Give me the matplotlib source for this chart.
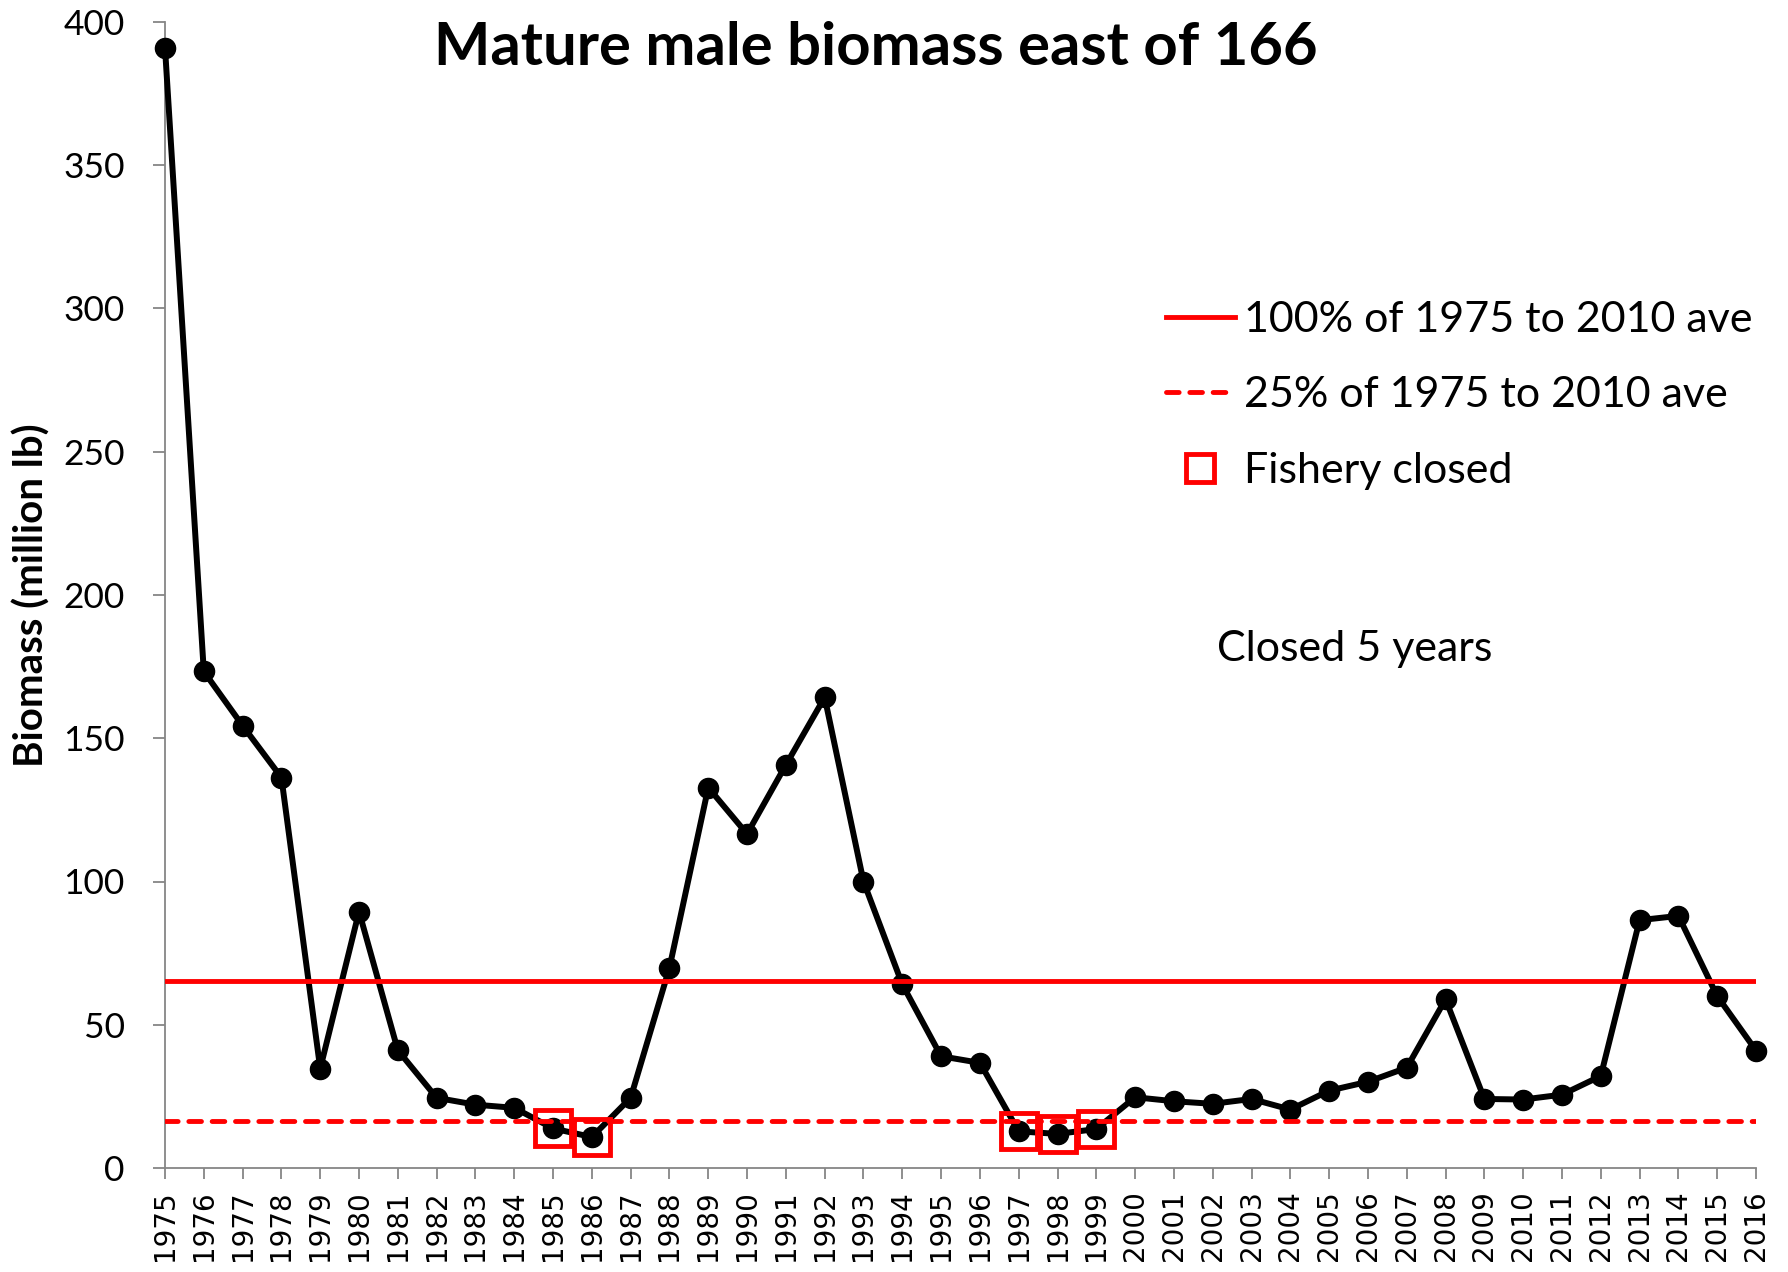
import numpy as np
import matplotlib
matplotlib.use("Agg")
import matplotlib.pyplot as plt
from matplotlib.lines import Line2D

years = np.arange(1975, 2017)
biomass = [391.0, 173.3, 154.4, 136.3, 34.7, 89.5, 41.1, 24.5, 22.1, 21.0,
           13.8, 10.8, 24.5, 69.9, 132.8, 116.6, 140.7, 164.3, 100.0, 64.1,
           39.0, 36.7, 12.8, 11.9, 13.6, 24.7, 23.3, 22.4, 24.1, 20.4,
           27.0, 30.1, 35.0, 58.9, 24.1, 23.9, 25.6, 32.1, 86.5, 88.0,
           60.0, 41.0]
closed_years = [1985, 1986, 1997, 1998, 1999]
ave_start, ave_end = 1975, 2010

biomass = np.array(biomass)
ave_mask = (years >= ave_start) & (years <= ave_end)
ave_100 = biomass[ave_mask].mean()
ave_25 = 0.25 * ave_100
closed_mask = np.isin(years, closed_years)

text_font = "Lato"
axis_grey = "#868686"
dash_style = dict(dashes=(2.6, 2.2), dash_capstyle="round")

fig = plt.figure(figsize=(17.88, 12.72), dpi=100)
ax = fig.add_axes([165 / 1788, 1 - 1168 / 1272, (1756 - 165) / 1788, (1168 - 22) / 1272])

ax.plot(years, biomass, color="black", linewidth=4.3, marker="o", markersize=14.5,
        zorder=3, clip_on=False)
ax.axhline(ave_100, color="red", linewidth=3.5, zorder=4)
ax.axhline(ave_25, color="red", linewidth=3.5, zorder=4, **dash_style)
ax.plot(years[closed_mask], biomass[closed_mask], linestyle="none", marker="s",
        markersize=26, markerfacecolor="none", markeredgecolor="red",
        markeredgewidth=3.5, zorder=5)

ax.set_xlim(years[0], years[-1])
ax.set_ylim(0, 400)
ax.set_yticks(np.arange(0, 401, 50))
ax.set_xticks(years)
ax.set_xticklabels([str(y) for y in years], rotation=90, fontsize=20,
                   family="DejaVu Sans")
for lab in ax.get_yticklabels():
    lab.set_family(text_font)
    lab.set_fontsize(25.5)

for side in ["top", "right"]:
    ax.spines[side].set_visible(False)
for side in ["left", "bottom"]:
    ax.spines[side].set_color(axis_grey)
    ax.spines[side].set_linewidth(1.3)
ax.tick_params(axis="y", length=9, width=1.3, color=axis_grey, pad=20)
ax.tick_params(axis="x", length=8, width=1.3, color=axis_grey, pad=8)

ax.set_ylabel("Biomass (million lb)", family=text_font, fontweight="bold", fontsize=29)
ax.yaxis.set_label_coords(-0.072, 0.5)

fig.text(876 / 1788, 1 - 48 / 1272, "Mature male biomass east of 166",
         family=text_font, fontweight="bold", fontsize=43, ha="center", va="center")

ax.text(2005.67, 181, "Closed 5 years", family=text_font, fontsize=31,
        ha="center", va="center")

handles = [
    Line2D([], [], color="red", linewidth=3.5),
    Line2D([], [], color="red", linewidth=3.5, **dash_style),
    Line2D([], [], linestyle="none", marker="s", markersize=20, markerfacecolor="none",
           markeredgecolor="red", markeredgewidth=3.5),
]
labels = ["100% of 1975 to 2010 ave", "25% of 1975 to 2010 ave", "Fishery closed"]
ax.legend(handles, labels, loc="upper left", bbox_to_anchor=(1166 / 1788, 1 - 301 / 1272),
          bbox_transform=fig.transFigure, frameon=False, prop={"family": text_font, "size": 31},
          handlelength=1.6, handletextpad=0.2, labelspacing=0.87, borderpad=0,
          borderaxespad=0)

fig.savefig("out.png", dpi=100, facecolor="white")
